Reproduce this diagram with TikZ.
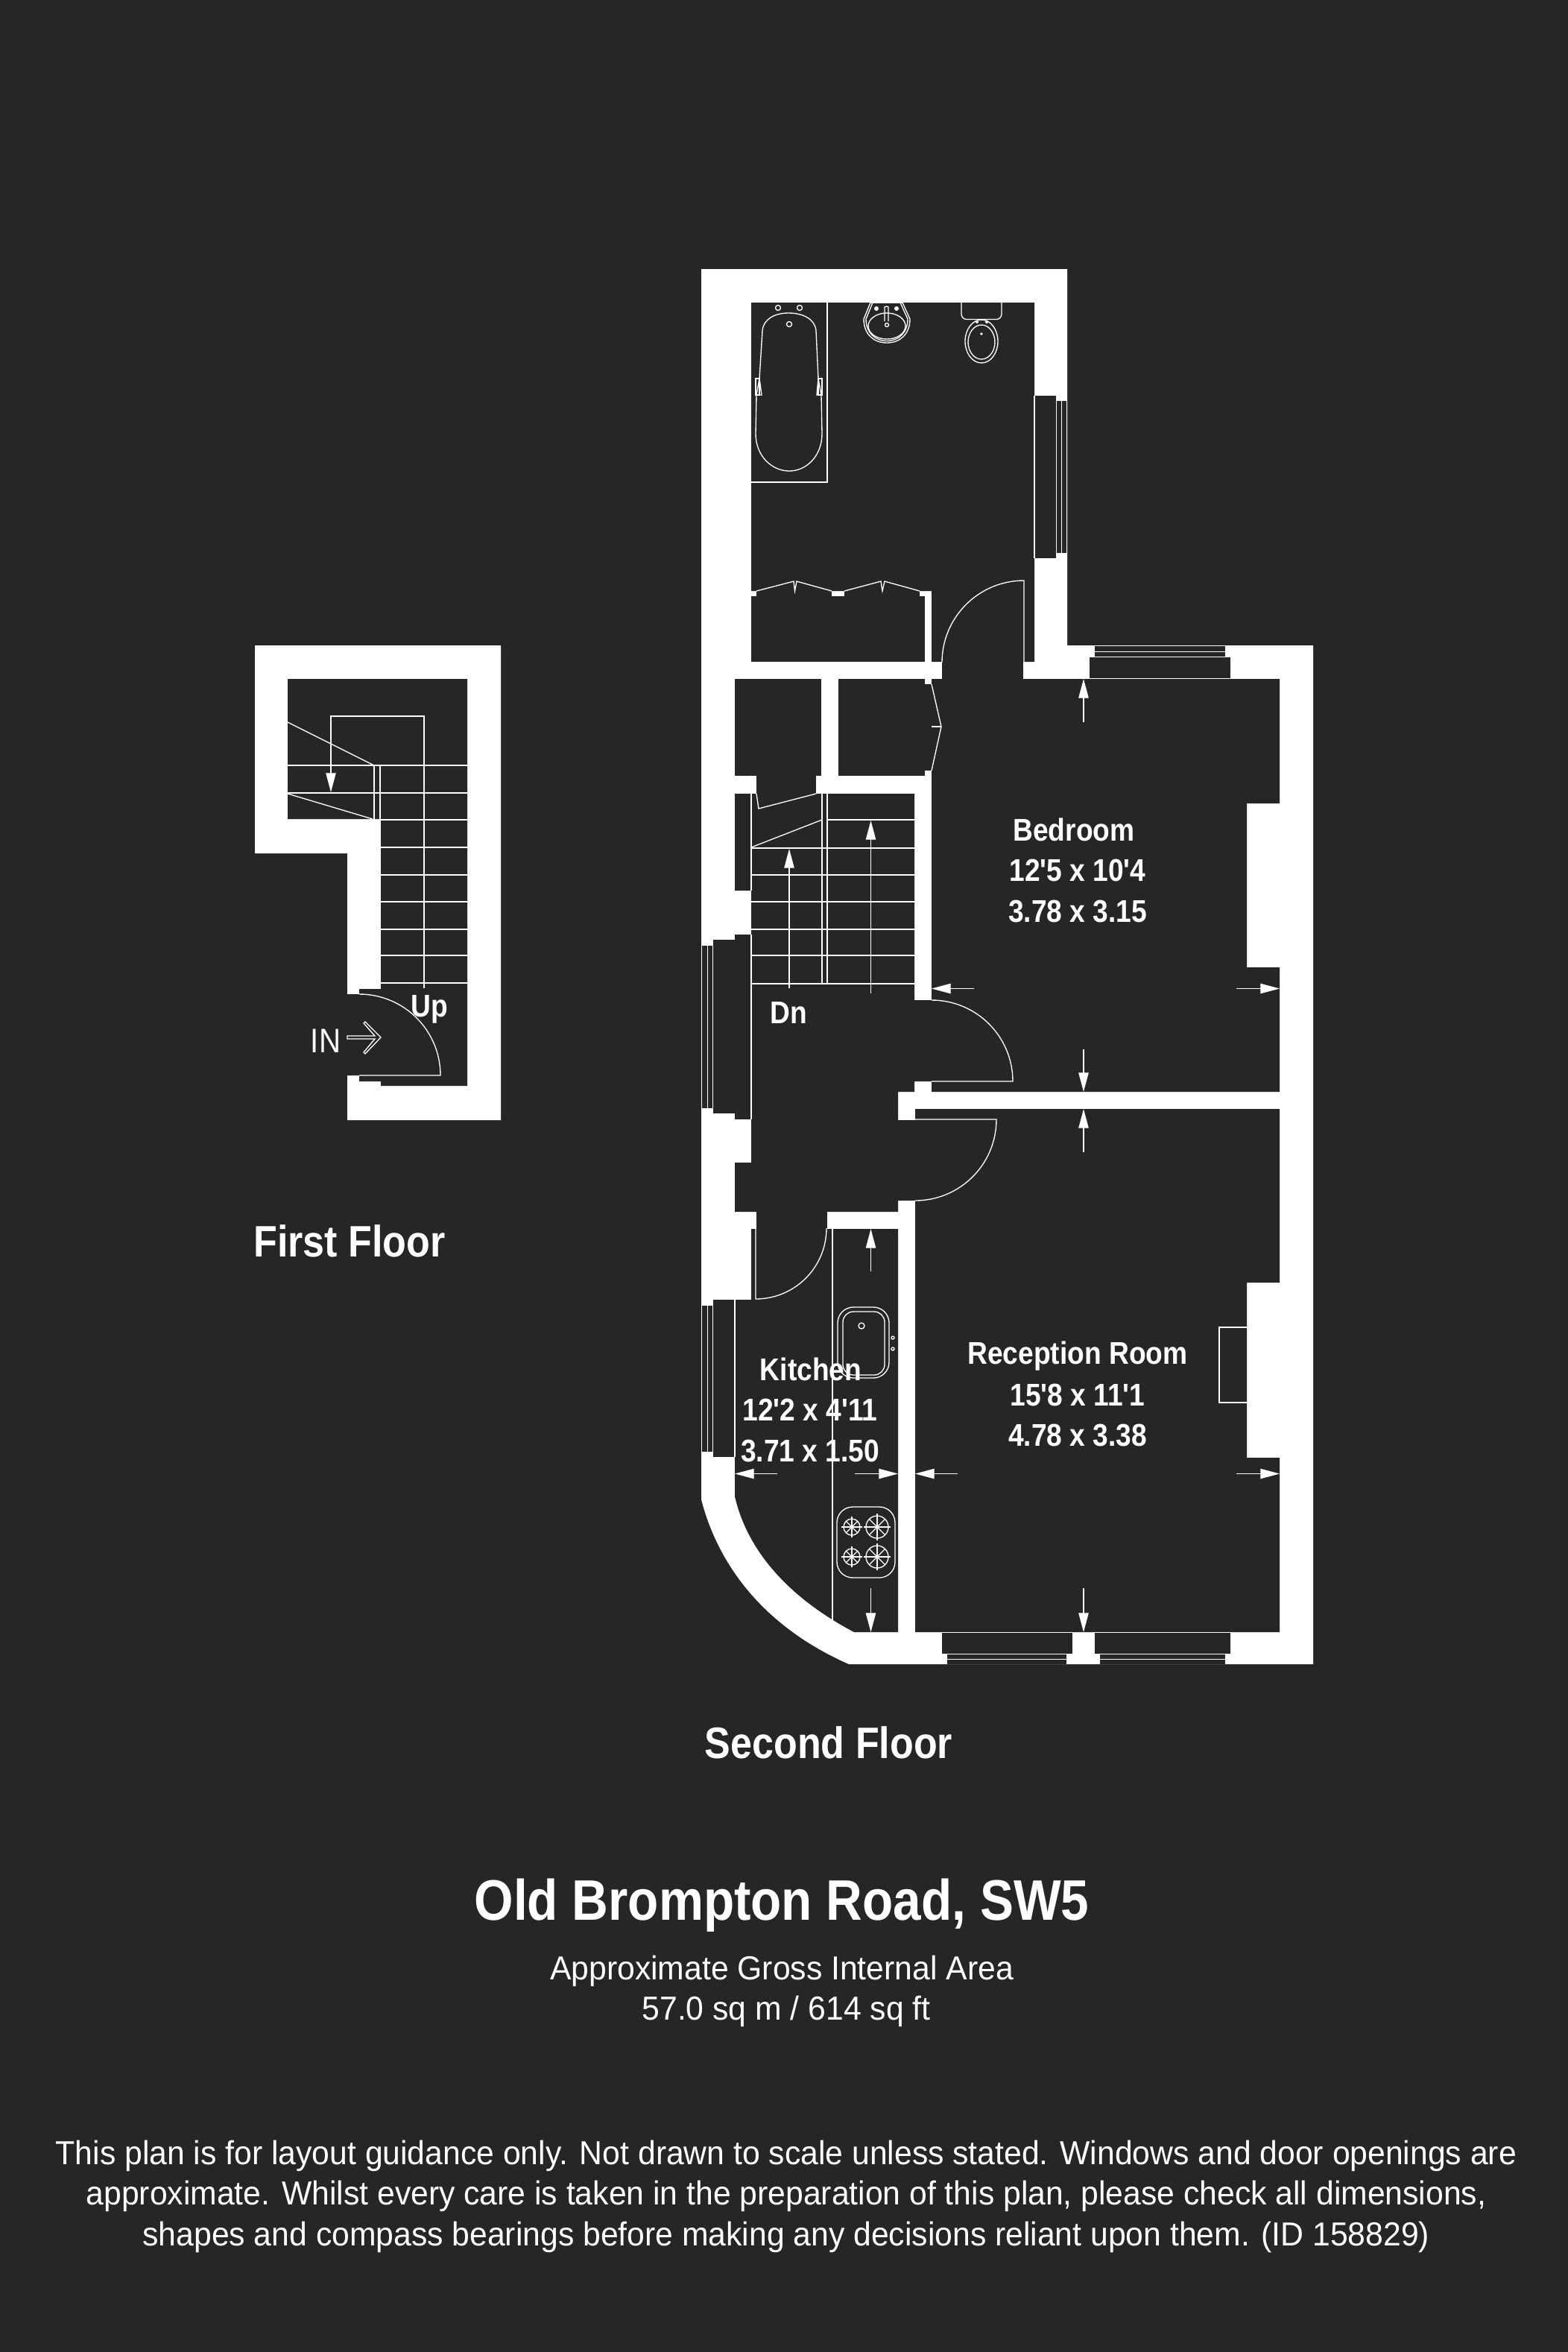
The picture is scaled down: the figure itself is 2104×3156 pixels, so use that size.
\documentclass[tikz,border=0pt]{standalone}
\usepackage{fontspec}
\setmainfont{Liberation Sans}
\newfontfamily\roomfont[FakeStretch=0.88]{Liberation Sans}
\newfontfamily\notefont[FakeStretch=0.956]{Liberation Sans}
\usetikzlibrary{arrows.meta}
\definecolor{floorbg}{HTML}{262626}
\tikzset{
    wall/.style={fill=white,draw=none},
    room/.style={fill=floorbg,draw=none},
    thinline/.style={draw=white,line width=0.38pt},
    dimarrow/.style={draw=white,line width=0.35pt,-{Triangle[length=7.3pt,width=3.8pt,fill=white]}},
    roomlabel/.style={text=white,font=\roomfont\bfseries\fontsize{12}{14}\selectfont,inner sep=0pt},
    floorlabel/.style={text=white,font=\roomfont\bfseries\fontsize{16.8}{20}\selectfont,inner sep=0pt},
    titlelabel/.style={text=white,font=\roomfont\bfseries\fontsize{21.8}{26}\selectfont,inner sep=0pt},
    notelabel/.style={text=white,font=\notefont\fontsize{12.7}{15.5}\selectfont,inner sep=0pt,align=center}
}
\begin{document}
\begin{tikzpicture}[x=0.01cm,y=-0.01cm]
    \useasboundingbox (0,0) rectangle (2104,3156);
    \fill [floorbg] (0,0) rectangle (2104,3156);
    % second floor walls
    \path [wall] (941,361) -- (1432,361) -- (1432,866) -- (1762,866) -- (1762,2233) -- (1139,2233)
        .. controls (1030,2185) and (965,2105) .. (941,2012) -- cycle;
    \begin{scope}[every path/.style={room}]
        \path (1008,406) -- (1388,406) -- (1388,888) -- (1250,888) -- (1250,793) -- (1008,793) -- cycle;
        \path (1008,800) rectangle (1241,888);
        \path (1015,793) rectangle (1116,800);
        \path (1133,793) rectangle (1234,800);
        \path (1264,887) rectangle (1373,912);
        \path (986,911) rectangle (1102,1041);
        \path (1125,911) rectangle (1241,1041);
        \path (1240,918) rectangle (1251,1034);
        \path (1015,1040) rectangle (1095,1066);
        \path (1250,911) -- (1717,911) -- (1717,1078) -- (1673,1078) -- (1673,1298) -- (1717,1298) -- (1717,1465)
            -- (1250,1465) -- (1250,1451) -- (1227,1451) -- (1227,1342) -- (1250,1342) -- cycle;
        \path (986,1065) -- (1227,1065) -- (1227,1465) -- (1205,1465) -- (1205,1626) -- (986,1626)
            -- (986,1560) -- (1008,1560) -- (1008,1195) -- (986,1195) -- cycle;
        \path (1204,1503) rectangle (1229,1611);
        \path (1015,1625) rectangle (1110,1650);
        \path (1008,1649) -- (1205,1649) -- (1205,2190) -- (1146,2190)
            .. controls (1070,2150) and (1005,2090) .. (986,2008) -- (986,1744) -- (1008,1744) -- cycle;
        \path (1228,1488) -- (1717,1488) -- (1717,1721) -- (1673,1721) -- (1673,1956) -- (1717,1956) -- (1717,2190) -- (1228,2190) -- cycle;
        % window recesses
        \path (1389,531) rectangle (1417,749);
        \path (1418,538) rectangle (1424,742);
        \path (1425,538) rectangle (1431,742);
        \path (1462,882) rectangle (1651,910);
        \path (1469,867) rectangle (1644,874);
        \path (1469,875) rectangle (1644,881);
        \path (986,1254) rectangle (1008,1502);
        \path (957,1261) rectangle (986,1494);
        \path (942,1269) rectangle (949,1487);
        \path (950,1269) rectangle (956,1487);
        \path (957,1744) rectangle (986,1955);
        \path (942,1752) rectangle (949,1948);
        \path (950,1752) rectangle (956,1948);
        \path (1264,2191) rectangle (1439,2219);
        \path (1469,2191) rectangle (1651,2219);
        \path (1271,2220) rectangle (1431,2226);
        \path (1271,2227) rectangle (1431,2233);
        \path (1476,2220) rectangle (1644,2226);
        \path (1476,2227) rectangle (1644,2233);
    \end{scope}
    % first floor walls
    \path [wall] (342,866) -- (672,866) -- (672,1503) -- (466,1503) -- (466,1443) -- (466,1334) -- (466,1145) -- (342,1145) -- cycle;
    \path [room] (386,911) -- (627,911) -- (627,1457) -- (511,1457) -- (511,1451) -- (482,1451) -- (482,1443) -- (466,1443)
        -- (466,1334) -- (482,1334) -- (482,1327) -- (511,1327) -- (511,1099) -- (386,1099) -- cycle;
    % doors and sills
    \begin{scope}[every path/.style={thinline}]
        \path (1374,888) -- (1374,779) arc [start angle=-90,end angle=-180,radius=110] -- (1264,888);
        \path (1250,1342) arc [start angle=-90,end angle=0,radius=109] -- (1250,1451);
        \path (1228,1502) -- (1337,1502) arc [start angle=0,end angle=90,radius=109];
        \path (1014,1649) -- (1014,1743) arc [start angle=90,end angle=0,radius=95];
        \path (482,1443) -- (591,1443) arc [start angle=0,end angle=-90,radius=109];
        \path (1250,918) -- (1263,975) -- (1250,1034);
        \path (1250,975) -- (1263,975);
        \path (1015,1065) -- (1018,1085) -- (1095,1065);
        \path (1015,793) -- (1065,780) -- (1066.5,793) -- (1069,780) -- (1116,793);
        \path (1133,793) -- (1182,780) -- (1184,793) -- (1187,780) -- (1234,793);
        \path (1388,531) -- (1388,749);
        \path (1462,910.5) -- (1651,910.5);
        \path (1264,2190.5) -- (1439,2190.5);
        \path (1469,2190.5) -- (1651,2190.5);
        \path (1008,1065) -- (1008,1195);
        \path (1008,1254) -- (1008,1502);
        \path (986,1744) -- (986,1955);
        % fireplace
        \path (1673,1781) -- (1636,1781) -- (1636,1882) -- (1673,1882);
        % kitchen units
        \path (1117,1649) -- (1117,2174);
        \path (1124,1754) [rounded corners=6] rectangle (1193,1849);
        \path (1131,1760) [rounded corners=4] rectangle (1187,1845);
        \path (1156,1779) circle [radius=4];
        \path (1198,1795) circle [radius=2];
        \path (1198,1810) circle [radius=2];
        \path (1123,2022) [rounded corners=6] rectangle (1201,2117);
        \foreach \cx/\cy/\cr in {1143/2049/11,1177/2049/15,1143/2089/11,1177/2089/15} {
            \path (\cx,\cy) circle [radius=\cr];
            \foreach \ang in {45,135,225,315} {
                \path (\cx,\cy) -- ++(\ang:\cr);
            }
            \path [line width=0.6pt] (\cx-\cr-3,\cy) -- (\cx+\cr+3,\cy);
            \path [line width=0.6pt] (\cx,\cy-\cr-3) -- (\cx,\cy+\cr+3);
        }
        % bath
        \path (1008,647) -- (1110,647) -- (1110,406);
        \path (1023,444) .. controls (1024,428) and (1040,420) .. (1058,420) .. controls (1077,420) and (1094,428) .. (1095,444)
            -- (1098,508) -- (1102,530) -- (1103,582) .. controls (1103,612) and (1082,632) .. (1059,632)
            .. controls (1036,632) and (1014,612) .. (1014,582) -- (1015,530) -- (1019,508) -- cycle;
        \path (1014,508) rectangle (1019,530);
        \path (1098,508) rectangle (1103,530);
        \path (1014,530) -- (1022,530) -- (1019,508);
        \path (1103,530) -- (1096,530) -- (1098,508);
        \path (1044,413) circle [radius=3.5];
        \path (1073,413) circle [radius=3.5];
        \path (1059,435) circle [radius=3.5];
        % basin
        \path (1168,406) -- (1211,406);
        \path (1168,406) -- (1159,428) .. controls (1159,448) and (1172,460) .. (1190,460) .. controls (1208,460) and (1221,448) .. (1221,428) -- (1211,406);
        \path (1171,406) -- (1162,428) .. controls (1162,446) and (1174,457.5) .. (1190,457.5) .. controls (1206,457.5) and (1218,446) .. (1218,428) -- (1208,406);
        \path (1190,437.5) ellipse [x radius=25,y radius=17.5];
        \path (1187,431) -- (1187,412) -- (1189.5,411) -- (1192,412) -- (1192,431);
        \path (1190,436) circle [radius=2.5];
        % toilet
        \path (1290,406) [rounded corners=2] -- (1290,428.5) -- (1344,428.5) -- (1344,406);
        \path (1317,458) ellipse [x radius=22,y radius=29];
        \path (1317,459) ellipse [x radius=18,y radius=23];
        \path (1311,432) circle [radius=1.5];
        \path (1324,432) circle [radius=1.5];
        \path (1317,448) circle [radius=1];
        % stairs second floor
        \foreach \ty in {1138,1174,1210,1247,1282,1320} {
            \path (1008,\ty) -- (1227,\ty);
        }
        \path (1110,1100) -- (1227,1100);
        \path (1103,1065) -- (1103,1320);
        \path (1110,1065) -- (1110,1320);
        \path (1008,1137) -- (1103,1100);
        % stairs first floor
        \foreach \ty in {1027,1064} {
            \path (386,\ty) -- (627,\ty);
        }
        \foreach \ty in {1100,1137,1174,1210,1247,1282,1319} {
            \path (511,\ty) -- (627,\ty);
        }
        \path (502,1027) -- (502,1100);
        \path (510,1027) -- (510,1100);
        \path (569,1326) -- (569,961) -- (444,961) -- (444,1040);
        \path (386,969) -- (502,1027);
        \path (386,1065) -- (500,1099);
        % entrance arrow
        \path (466,1390) -- (503,1390) -- (488,1373) -- (490,1371) -- (511,1392) -- (490,1414) -- (488,1412) -- (503,1394) -- (466,1394) -- cycle;
    \end{scope}
    \fill [white] (1176,414) circle [radius=3];
    \fill [white] (1203,414) circle [radius=3];
    % dimension arrows
    \begin{scope}[every path/.style={dimarrow}]
        \path (1454,969) -- (1454,911);
        \path (1307,1326.5) -- (1250,1326.5);
        \path (1659,1326.5) -- (1717,1326.5);
        \path (1454,1408) -- (1454,1465);
        \path (1454,1546) -- (1454,1488);
        \path (1454,2131) -- (1454,2190);
        \path (1285,1977.5) -- (1228,1977.5);
        \path (1659,1977.5) -- (1717,1977.5);
        \path (1043,1977.5) -- (986,1977.5);
        \path (1147,1977.5) -- (1205,1977.5);
        \path (1168.5,1706) -- (1168.5,1649);
        \path (1168.5,2131) -- (1168.5,2190);
        \path (1059,1326) -- (1059,1139);
        \path (1168.5,1333) -- (1168.5,1101);
        \path (444,1020) -- (444,1063);
    \end{scope}
    % labels
    \begin{scope}[every node/.style={roomlabel}]
        \node (bedroom) at (1441,1113) {Bedroom};
        \node (bedroomft) at (1446,1168) {12'5 x 10'4};
        \node (bedroomm) at (1446,1223) {3.78 x 3.15};
        \node (down) at (1058,1359) {Dn};
        \node (up) at (576,1354) {Up};
        \node (kitchen) at (1088,1837) {Kitchen};
        \node (kitchenft) at (1087,1892) {12'2 x 4'11};
        \node (kitchenm) at (1087,1947) {3.71 x 1.50};
        \node (reception) at (1446,1820) {Reception Room};
        \node (receptionft) at (1446,1872) {15'8 x 11'1};
        \node (receptionm) at (1446,1926) {4.78 x 3.38};
    \end{scope}
    \node [roomlabel,font=\roomfont\fontsize{13}{15}\selectfont] (entrance) at (437,1397) {IN};
    \node [floorlabel] (firstfloor) at (469,1665) {First Floor};
    \node [floorlabel] (secondfloor) at (1112,2338) {Second Floor};
    \node [titlelabel] (title) at (1049,2557) {Old Brompton Road, SW5};
    \node [notelabel] (area) at (1049,2645) {Approximate Gross Internal Area};
    \node [notelabel] (areasize) at (1055,2699) {57.0 sq m / 614 sq ft};
    \node [notelabel] (note) at (1055,2947) {This plan is for layout guidance only. Not drawn to scale unless stated. Windows and door openings are\\approximate. Whilst every care is taken in the preparation of this plan, please check all dimensions,\\shapes and compass bearings before making any decisions reliant upon them. (ID 158829)};
\end{tikzpicture}
\end{document}
